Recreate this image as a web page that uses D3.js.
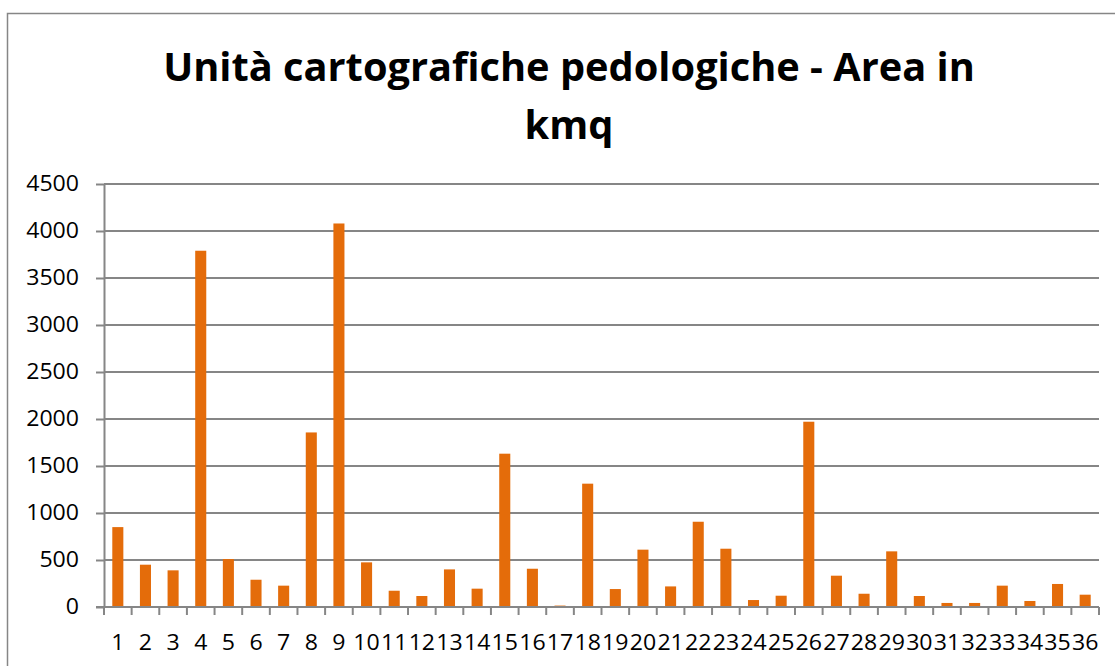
<!DOCTYPE html>
<html>
<head>
<meta charset="utf-8">
<script src="https://cdn.jsdelivr.net/npm/d3@7/dist/d3.min.js"></script>
<style>
  html, body { margin: 0; padding: 0; background: #fff; overflow: hidden; }
  svg { display: block; }
</style>
</head>
<body>
<svg id="chart" width="1115" height="666"></svg>
<script>
const titleLines = ["Unità cartografiche pedologiche - Area in", "kmq"];
const categories = ["1","2","3","4","5","6","7","8","9","10","11","12","13","14","15","16","17","18","19","20","21","22","23","24","25","26","27","28","29","30","31","32","33","34","35","36"];
const values = [850, 450, 390, 3790, 510, 290, 227, 1857, 4080, 475, 173, 117, 400, 195, 1631, 407, 15, 1312, 191, 610, 219, 907, 620, 74, 120, 1971, 333, 141, 592, 117, 43, 43, 227, 64, 245, 131];
const yTicks = [0, 500, 1000, 1500, 2000, 2500, 3000, 3500, 4000, 4500];

const svg = d3.select("#chart");
const plot = { left: 104, right: 1099, top: 184, bottom: 607 };
const gridColor = "#868686";
const barColor = "#E46C0A";
const fontFam = "'Open Sans', 'Liberation Sans', sans-serif";
const labelSize = 21;
const labelStretch = 1.1;

// outer chart frame (extends beyond the visible page on right and bottom)
svg.append("rect")
  .attr("x", 7.5).attr("y", 13.5)
  .attr("width", 1300).attr("height", 800)
  .attr("fill", "#fff")
  .attr("stroke", gridColor).attr("stroke-width", 1.5);

// title: Calibri-like proportions (tall glyphs, narrower) via horizontal scale
const titleSize = 39;
const titleCx = 569;
const targetW = 812;
const t1 = svg.append("text")
  .attr("text-anchor", "middle")
  .attr("font-family", fontFam).attr("font-weight", "bold")
  .attr("font-size", titleSize).attr("fill", "#000")
  .text(titleLines[0]);
const sx = targetW / t1.node().getComputedTextLength();
t1.attr("transform", `translate(${titleCx},81) scale(${sx},1)`);
svg.append("text")
  .attr("text-anchor", "middle")
  .attr("font-family", fontFam).attr("font-weight", "bold")
  .attr("font-size", titleSize).attr("fill", "#000")
  .attr("transform", `translate(${titleCx},139) scale(${sx},1)`)
  .text(titleLines[1]);

const xb = d3.scaleBand().domain(categories).range([plot.left, plot.right]);
const y = d3.scaleLinear().domain([0, 4500]).range([plot.bottom, plot.top]);

// y axis
const yG = svg.append("g").attr("transform", `translate(${plot.left},0)`)
  .call(d3.axisLeft(y).tickValues(yTicks).tickSizeInner(8).tickSizeOuter(0).tickPadding(0).tickFormat(d3.format("d")));
yG.select(".domain").attr("stroke", gridColor).attr("stroke-width", 2);
yG.selectAll(".tick line").attr("stroke", gridColor).attr("stroke-width", 2);
yG.selectAll(".tick text")
  .attr("x", null)
  .attr("font-family", fontFam).attr("font-size", labelSize).attr("fill", "#000")
  .attr("transform", `translate(-25,0) scale(${labelStretch},1)`);

// horizontal gridlines
svg.append("g").selectAll("line").data(yTicks.filter(d => d > 0)).join("line")
  .attr("x1", plot.left).attr("x2", plot.right)
  .attr("y1", d => y(d)).attr("y2", d => y(d))
  .attr("stroke", gridColor).attr("stroke-width", 2);

// bars (gap width 150% -> bar = 40% of band)
svg.append("g").selectAll("rect").data(values).join("rect")
  .attr("x", (d, i) => xb(categories[i]) + xb.bandwidth() * 0.3)
  .attr("width", xb.bandwidth() * 0.4)
  .attr("y", d => y(d))
  .attr("height", d => y(0) - y(d))
  .attr("fill", barColor);

// x axis with ticks at band boundaries
const xG = svg.append("g").attr("transform", `translate(0,${plot.bottom})`);
xG.append("line").attr("x1", plot.left - 8).attr("x2", plot.right)
  .attr("stroke", gridColor).attr("stroke-width", 2);
const bounds = categories.map(c => xb(c)).concat([plot.right]);
xG.selectAll("line.tk").data(bounds).join("line").attr("class", "tk")
  .attr("x1", d => d).attr("x2", d => d).attr("y1", 0).attr("y2", 8)
  .attr("stroke", gridColor).attr("stroke-width", 2);
xG.selectAll("text").data(categories).join("text")
  .attr("text-anchor", "middle")
  .attr("font-family", fontFam).attr("font-size", labelSize)
  .attr("fill", "#000")
  .attr("transform", d => `translate(${xb(d) + xb.bandwidth() / 2},43) scale(${labelStretch},1)`)
  .text(d => d);
</script>
</body>
</html>
